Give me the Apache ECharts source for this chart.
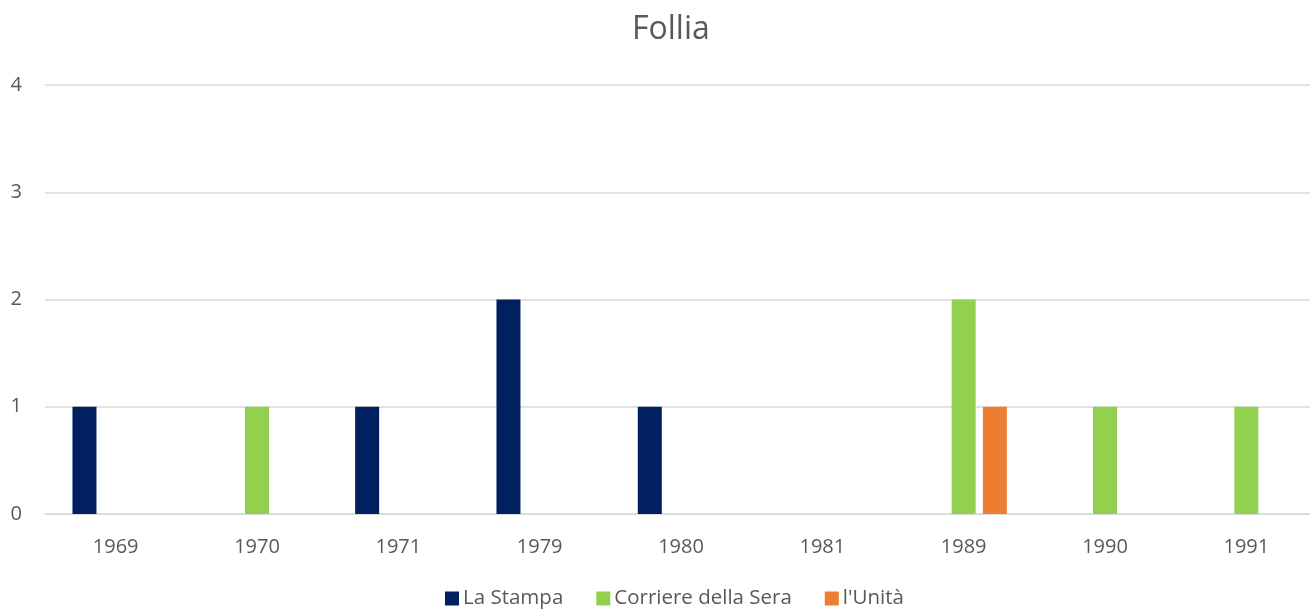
<!DOCTYPE html>
<html style="height: 100%">
  <head>
    <meta charset="utf-8" />
  </head>
  <body style="height: 100%; margin: 0; background: #fff; overflow: hidden">
    <div id="container" style="width: 1317px; height: 609px"></div>

    <script
      type="text/javascript"
      src="https://cdn.jsdelivr.net/npm/echarts@6/dist/echarts.min.js"
    ></script>

    <script type="text/javascript">
      var years = ["1969", "1970", "1971", "1979", "1980", "1981", "1989", "1990", "1991"];
      var laStampa = [1, 0, 1, 2, 1, 0, 0, 0, 0];
      var corriere = [0, 1, 0, 0, 0, 0, 2, 1, 1];
      var unita = [0, 0, 0, 0, 0, 0, 1, 0, 0];

      var dom = document.getElementById("container");
      var myChart = echarts.init(dom);
      var font = "'Open Sans', 'Noto Sans', sans-serif";

      // plot runs a few pixels past the right edge of the window, like the original
      var option = {
        backgroundColor: "#fff",
        textStyle: { fontFamily: font },
        title: {
          text: "Follia",
          left: 632,
          top: 14,
          padding: 0,
          textStyle: {
            color: "#595959",
            fontSize: 32,
            fontWeight: "normal",
            fontFamily: font,
          },
        },
        legend: {
          left: 445,
          top: 588,
          padding: 0,
          itemWidth: 14,
          itemHeight: 14,
          itemGap: 33,
          itemStyle: { borderWidth: 0 },
          icon: "rect",
          textStyle: { color: "#595959", fontSize: 20.5, fontFamily: font, padding: [0, 0, 0, -1] },
          data: ["La Stampa", "Corriere della Sera", "l'Unità"],
        },
        grid: {
          left: 45,
          right: 0,
          top: 85,
          bottom: 95,
          containLabel: false,
        },
        xAxis: {
          type: "category",
          data: years,
          axisLine: { lineStyle: { color: "#D9D9D9", width: 1.5 } },
          axisTick: { show: false },
          axisLabel: { color: "#595959", fontSize: 20, margin: 23 },
        },
        yAxis: {
          type: "value",
          min: 0,
          max: 4,
          interval: 1,
          axisLine: { show: false },
          axisTick: { show: false },
          axisLabel: { color: "#595959", fontSize: 20, margin: 23 },
          splitLine: { lineStyle: { color: "#D9D9D9", width: 1.5 } },
        },
        series: [
          {
            name: "La Stampa",
            type: "bar",
            data: laStampa,
            barWidth: 24,
            barGap: "30%",
            itemStyle: { color: "#002060" },
          },
          {
            name: "Corriere della Sera",
            type: "bar",
            data: corriere,
            barWidth: 24,
            barGap: "30%",
            itemStyle: { color: "#92D050" },
          },
          {
            name: "l'Unità",
            type: "bar",
            data: unita,
            barWidth: 24,
            barGap: "30%",
            itemStyle: { color: "#ED7D31" },
          },
        ],
      };

      option && myChart.setOption(option);
    </script>
  </body>
</html>
